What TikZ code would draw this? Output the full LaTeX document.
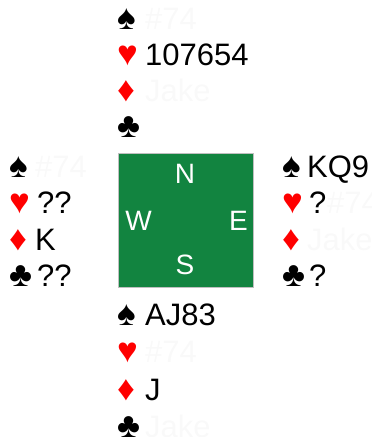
\documentclass[tikz,border=0pt]{standalone}
\usepackage{fontspec}
\setmainfont{Liberation Sans}
\definecolor{tablegreen}{RGB}{18,132,64}
\definecolor{faint}{RGB}{249,249,249}
\definecolor{suitred}{RGB}{255,0,0}
\begin{document}
\begin{tikzpicture}[x=1pt,y=-1pt,
  txt/.style={anchor=base west,inner sep=0pt,font=\fontsize{31}{31}\selectfont},
  suit/.style={anchor=base west,inner sep=0pt,font=\fontsize{35}{35}\selectfont},
  hidden/.style={txt,text=faint},
  blk/.style={txt,text=black},
  blks/.style={suit,text=black},
  reds/.style={suit,text=suitred},
  dir/.style={anchor=base,inner sep=0pt,text=white,font=\fontsize{28}{28}\selectfont}]
\useasboundingbox (0,0) rectangle (372,437);
% table
\node[draw=black!25,line width=0.6pt,fill=tablegreen,minimum width=135pt,minimum height=134pt,inner sep=0pt,anchor=north west] (table) at (118,153) {};
\node[dir] (dN) at (185,183) {N};
\node[dir] (dW) at (138.5,230) {W};
\node[dir] (dE) at (238.5,230) {E};
\node[dir] (dS) at (185,274) {S};
% North
\node[blks] (ns) at (117,29) {♠};
\node[hidden] (nst) at (145,29) {\#74};
\node[reds] (nh) at (117,65) {♥};
\node[blk] (nht) at (145,65) {107654};
\node[reds] (nd) at (117,101) {♦};
\node[hidden] (ndt) at (145,101) {Jake};
\node[blks] (nc) at (117,137) {♣};
% West
\node[blks] (ws) at (9,177) {♠};
\node[hidden] (wst) at (35,177) {\#74};
\node[reds] (wh) at (9,213) {♥};
\node[blk] (wht) at (37,213) {??};
\node[reds] (wd) at (9,250) {♦};
\node[blk] (wdt) at (35,250) {K};
\node[blks] (wc) at (9,286) {♣};
\node[blk] (wct) at (37,286) {??};
% East
\node[blks] (es) at (282,177) {♠};
\node[blk] (est) at (307,177) {KQ9};
\node[reds] (eh) at (282,213) {♥};
\node[blk] (eht) at (309,213) {?};
\node[hidden] (ehx) at (327,213) {\#74};
\node[reds] (ed) at (282,250) {♦};
\node[hidden] (edt) at (307,250) {Jake};
\node[blks] (ec) at (282,286) {♣};
\node[blk] (ect) at (309,286) {?};
% South
\node[blks] (ss) at (117,325) {♠};
\node[blk] (sst) at (145,325) {AJ83};
\node[reds] (sh) at (117,362) {♥};
\node[hidden] (sht) at (145,362) {\#74};
\node[reds] (sd) at (117,400) {♦};
\node[blk] (sdt) at (145,400) {J};
\node[blks] (sc) at (117,437) {♣};
\node[hidden] (sct) at (145,437) {Jake};
\end{tikzpicture}
\end{document}
